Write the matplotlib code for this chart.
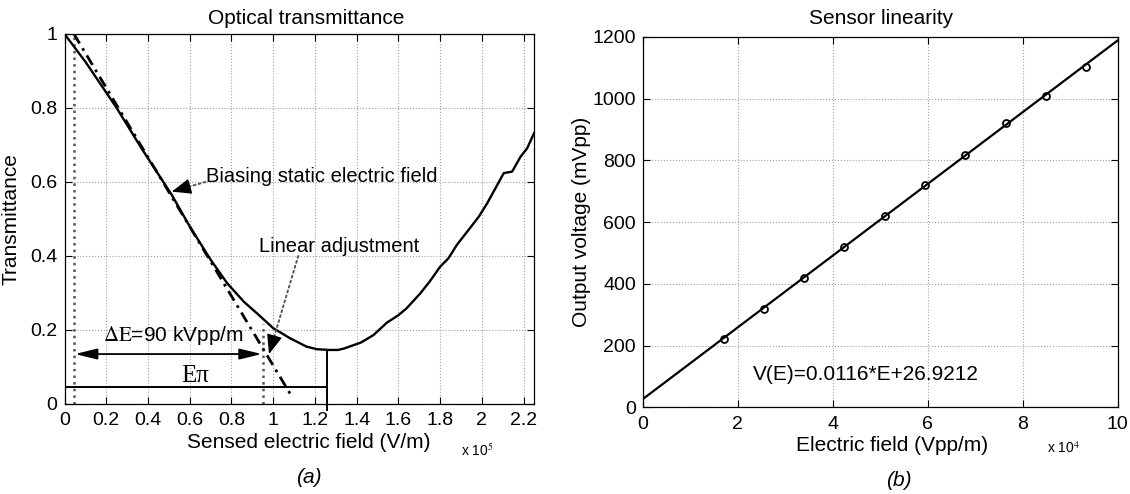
import matplotlib
matplotlib.use("Agg")
import matplotlib.pyplot as plt
import numpy as np
from matplotlib.ticker import FormatStrFormatter

plt.rcParams["font.family"] = ["Liberation Sans", "DejaVu Sans"]
plt.rcParams["mathtext.fontset"] = "stix"
plt.rcParams["font.size"] = 14

# (a) transmittance curve, x in units of 1e5 V/m
field = [0.0, 0.1, 0.25, 0.37, 0.514, 0.60, 0.70, 0.78, 0.86, 0.94, 1.00, 1.08,
         1.16, 1.21, 1.27, 1.31, 1.34, 1.42, 1.48, 1.545, 1.60, 1.64, 1.705,
         1.75, 1.80, 1.84, 1.88, 1.93, 1.985, 2.025, 2.065, 2.105, 2.145,
         2.185, 2.217, 2.25]
trans = [1.0, 0.925, 0.80, 0.69, 0.565, 0.48, 0.39, 0.326, 0.276, 0.236, 0.205,
         0.178, 0.155, 0.148, 0.146, 0.146, 0.150, 0.166, 0.186, 0.220, 0.240,
         0.259, 0.299, 0.331, 0.371, 0.394, 0.430, 0.466, 0.506, 0.542, 0.583,
         0.624, 0.628, 0.668, 0.691, 0.732]

# linear adjustment (dash-dot) end points
lin_x = [0.045, 1.082]
lin_y = [1.0, 0.027]

# (b) sensor linearity, x in units of 1e4 Vpp/m
efield = [1.70, 2.55, 3.39, 4.24, 5.09, 5.94, 6.79, 7.65, 8.49, 9.34]
vout = [220, 320, 419, 520, 620, 721, 817, 920, 1009, 1101]
fit_x = [0, 10]
fit_y = [27, 1188]

fig = plt.figure(figsize=(11.3, 4.94), dpi=100)
ax1 = fig.add_axes([0.0571, 0.1822, 0.4155, 0.749])
ax2 = fig.add_axes([0.569, 0.1755, 0.420, 0.750])

for ax in (ax1, ax2):
    ax.grid(True, color="#a0a0a0", linestyle=":", linewidth=0.8)
    ax.tick_params(direction="in", top=True, right=True, length=5, width=0.8,
                   labelsize=14)
    ax.tick_params(axis="x", pad=6)
    ax.tick_params(axis="y", pad=5)
    for s in ax.spines.values():
        s.set_linewidth(0.9)

# ---- (a) ----
ax1.plot(field, trans, color="black", linewidth=1.7, zorder=3)
ax1.plot(lin_x, lin_y, color="black", linewidth=2, dashes=[4, 2, 1, 2], zorder=3)

# dotted markers of the field span
ax1.plot([0.045, 0.045], [0, 1], color="#555555", linestyle=":", linewidth=1.8)
ax1.plot([0.95, 0.95], [0, 0.215], color="#555555", linestyle=":", linewidth=1.8)

# E-pi bracket
ax1.plot([0, 1.26], [0.045, 0.045], color="black", linewidth=1.4)
ax1.plot([1.26, 1.26], [-0.016, 0.146], color="black", linewidth=1.4, clip_on=False)
ax1.text(0.626, 0.076, "E\u03c0", ha="center", va="center", fontsize=18,
         family="Liberation Serif")

# delta E arrow
ax1.annotate("", xy=(0.05, 0.135), xytext=(0.945, 0.135),
             arrowprops=dict(arrowstyle="<|-|>,head_length=0.9,head_width=0.22",
                             color="black", lw=1.3, shrinkA=0, shrinkB=0,
                             mutation_scale=15))
ax1.text(0.522, 0.186, r"$\Delta\mathrm{E}$=90 kVpp/m", ha="center", va="center",
         fontsize=15)

# pointer labels: dotted shaft + solid black head
dotted = dict(arrowstyle="-", color="#555555", lw=1.4, linestyle=":",
              shrinkA=0, shrinkB=0)
solid_head = dict(arrowstyle="-|>,head_length=0.75,head_width=0.3",
                  color="black", lw=1, shrinkA=0, shrinkB=0, mutation_scale=16)

ax1.text(0.68, 0.614, "Biasing static electric field", ha="left", va="center",
         fontsize=14.5)
ax1.annotate("", xy=(0.514, 0.574), xytext=(0.675, 0.60), arrowprops=dotted)
ax1.annotate("", xy=(0.514, 0.574), xytext=(11.5, 3.3),
             textcoords="offset points", arrowprops=solid_head)

ax1.text(0.93, 0.425, "Linear adjustment", ha="left", va="center", fontsize=14.5)
ax1.annotate("", xy=(0.98, 0.135), xytext=(1.12, 0.40), arrowprops=dotted)
ax1.annotate("", xy=(0.98, 0.135), xytext=(3.4, 11.5),
             textcoords="offset points", arrowprops=solid_head)

ax1.set_xlim(0, 2.25)
ax1.set_ylim(0, 1)
ax1.set_xticks(np.arange(0, 2.21, 0.2))
ax1.set_yticks(np.arange(0, 1.01, 0.2))
ax1.xaxis.set_major_formatter(FormatStrFormatter("%g"))
ax1.yaxis.set_major_formatter(FormatStrFormatter("%g"))
ax1.set_title("Optical transmittance", fontsize=15, y=1.042, va="center", pad=0)
ax1.title.set_x(0.514)
ax1.set_xlabel("Sensed electric field (V/m)", fontsize=15)
ax1.xaxis.label.set_va("center")
ax1.xaxis.set_label_coords(0.52, -0.105)
ax1.set_ylabel("Transmittance", fontsize=15)
ax1.yaxis.label.set_va("center")
ax1.yaxis.set_label_coords(-0.114, 0.5)

# ---- (b) ----
ax2.plot(fit_x, fit_y, color="black", linewidth=1.6)
ax2.plot(efield, vout, "o", color="black", markersize=5, markerfacecolor="none",
         markeredgewidth=1.3)
ax2.text(4.7, 105, "V(E)=0.0116*E+26.9212", ha="center", va="center", fontsize=15)

ax2.set_xlim(0, 10)
ax2.set_ylim(0, 1200)
ax2.set_xticks(np.arange(0, 11, 2))
ax2.set_yticks(np.arange(0, 1201, 200))
ax2.set_title("Sensor linearity", fontsize=15, y=1.05, va="center", pad=0)
ax2.title.set_x(0.502)
ax2.set_xlabel("Electric field (Vpp/m)", fontsize=15)
ax2.xaxis.label.set_va("center")
ax2.xaxis.set_label_coords(0.525, -0.102)
ax2.set_ylabel("Output voltage (mVpp)", fontsize=15)
ax2.yaxis.label.set_va("center")
ax2.yaxis.set_label_coords(-0.129, 0.5)

# exponent notes and panel letters
fig.text(0.422, 0.087, r"x 10$^5$", ha="center", va="center", fontsize=10)
fig.text(0.941, 0.093, r"x 10$^4$", ha="center", va="center", fontsize=10)
fig.text(0.273, 0.034, "(a)", ha="center", va="center", fontsize=15, style="italic")
fig.text(0.795, 0.028, "(b)", ha="center", va="center", fontsize=15, style="italic")

fig.savefig("out.png", dpi=100)
